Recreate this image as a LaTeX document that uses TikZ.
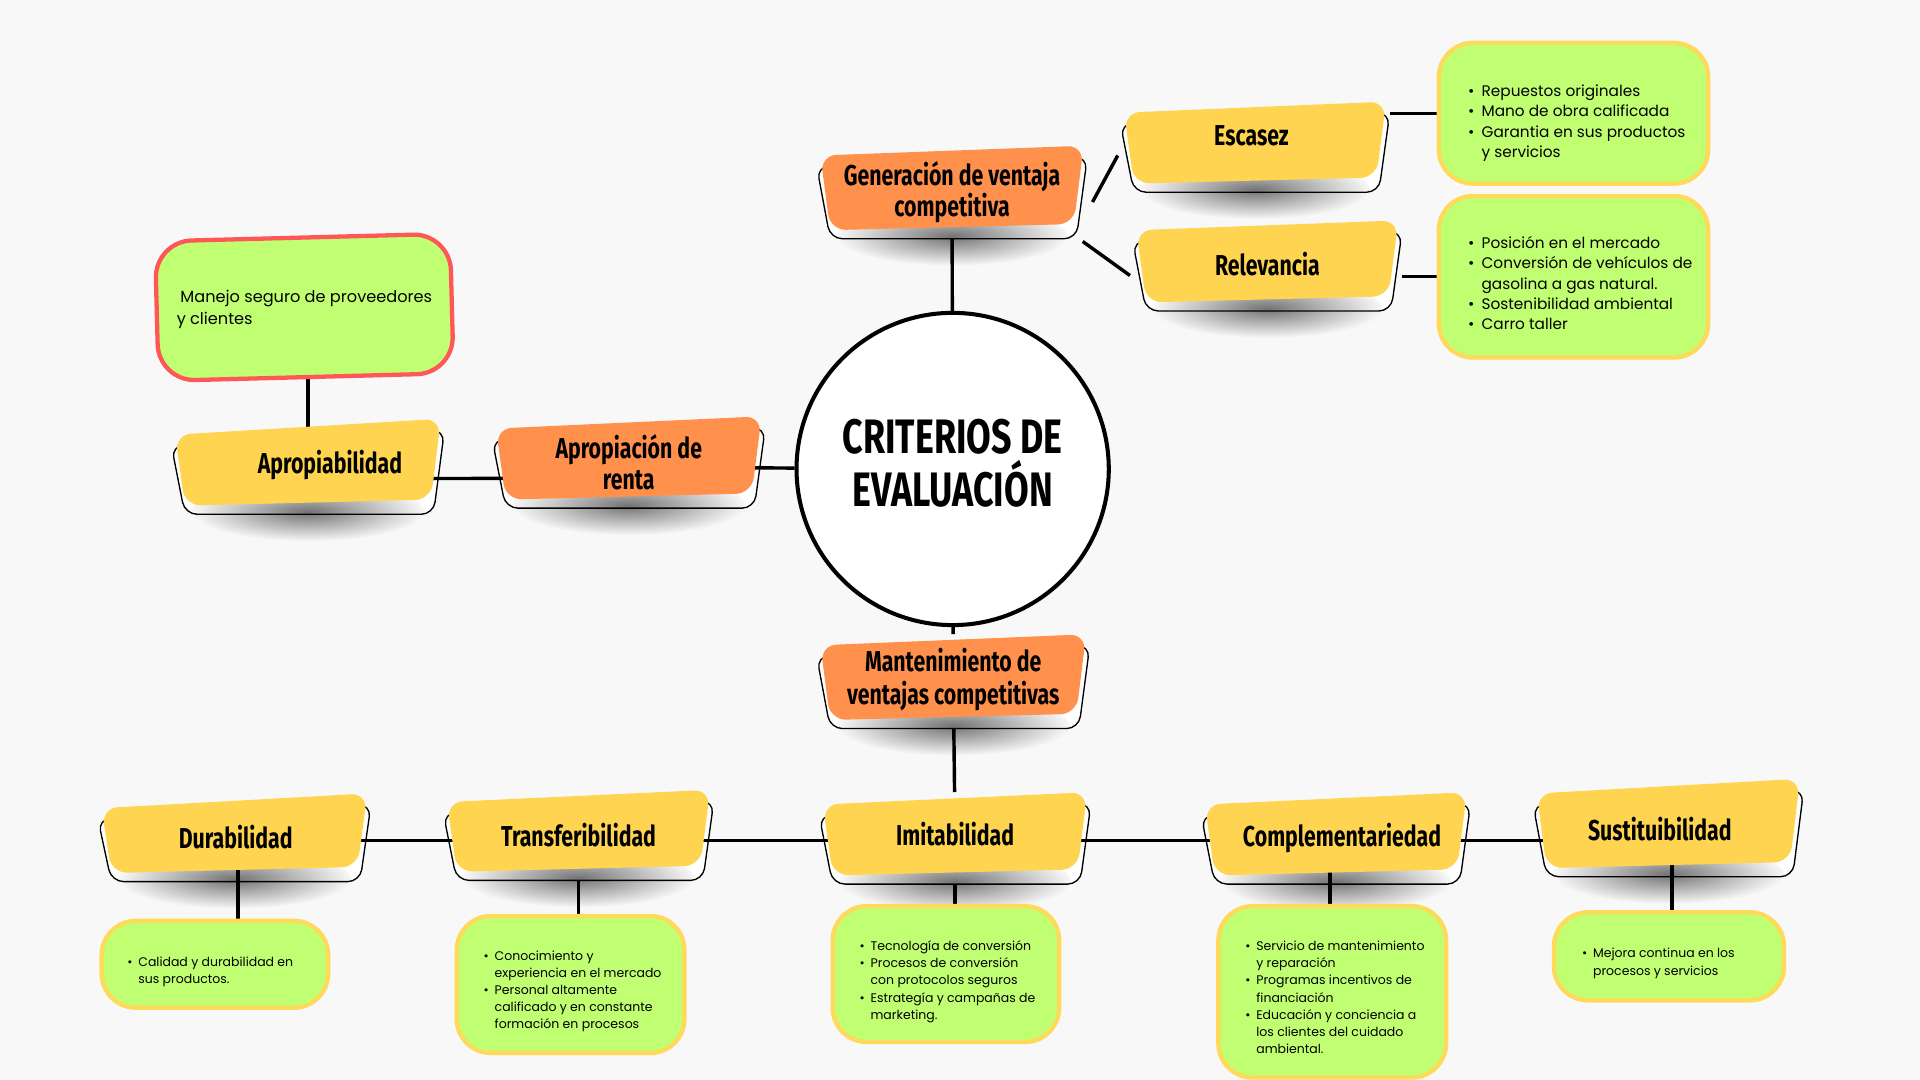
\documentclass[tikz,border=0pt]{standalone}
\usepackage{fontspec}
\setmainfont{Poppins}
\newfontfamily\hdfont[FakeStretch=0.74]{Fira Sans}
\definecolor{bgc}{HTML}{F8F8F8}
\definecolor{orng}{HTML}{FF914D}
\definecolor{yel}{HTML}{FFD451}
\definecolor{lime}{HTML}{C1FF72}
\definecolor{gold}{HTML}{FFD95A}
\definecolor{redb}{HTML}{FF5757}
\pgfdeclarelayer{back}\pgfdeclarelayer{shadow}\pgfdeclarelayer{lines}
\pgfsetlayers{back,shadow,lines,main}
\newcommand\tagshape[6]{%
 \begin{pgfonlayer}{shadow}
 \fill[white,rounded corners=10pt] ({#1-3},{#3+9}) -- ({#2+3},{#4+9}) -- ({#2-6},{#5+7}) -- ({#1+8},{#5+7}) -- cycle;
 \shade[inner color=black!55,outer color=bgc] ({(#1+#2)/2},{#5+5}) ellipse ({(#2-#1)*0.44} and 24);
 \end{pgfonlayer}
 \draw[line width=1.1pt,rounded corners=10pt] ({#1-3},{#3+9}) -- ({#2+3},{#4+9}) -- ({#2-6},{#5+7}) -- ({#1+8},{#5+7}) -- cycle;
 \fill[#6,rounded corners=13pt] (#1,#3) -- (#2,#4) -- ({#2-8},{#5-5}) -- ({#1+8},#5) -- cycle;
}
\newcommand\mv[3]{\raisebox{#2}[\height][\depth]{\kern#1#3\kern-#1}}
\newcommand\gtxt[5]{\parbox[c][#2][t]{#1}{\vspace*{#3}\leftskip=#4\relax\noindent #5}}
\newcommand\bl{\strut\makebox[11pt][l]{•}}
\newcommand\ct{\strut\hspace*{11pt}}
\newcommand\bls{\strut\makebox[9pt][l]{•}}
\newcommand\cts{\strut\hspace*{9pt}}
\tikzset{
 hd/.style={inner sep=0pt, font=\hdfont\bfseries\fontsize{23.5}{26}\selectfont, align=center},
 gbox/.style={draw=gold, fill=lime, line width=3.5pt, rounded corners=28pt, inner sep=0pt, font=\fontsize{12.5}{16.7}\selectfont},
 gsmall/.style={gbox, font=\fontsize{10.2}{14}\selectfont},
 conn/.style={line width=2.8pt, black},
}
\begin{document}
\begin{tikzpicture}[x=1pt,y=-1pt]
\begin{pgfonlayer}{back}
\fill[bgc] (0,0) rectangle (1568,882);
\end{pgfonlayer}
\useasboundingbox (0,0) rectangle (1568,882);

% centre
\node[circle, draw, line width=3.3pt, fill=white, minimum size=255pt, inner sep=0pt,
      font=\hdfont\bfseries\fontsize{39.5}{40}\selectfont] (crit) at (778,383)
      {\raisebox{-1pt}[\height][\depth]{\begin{tabular}{@{}c@{}}CRITERIOS DE\\[-6pt]EVALUACIÓN\end{tabular}}};

% heading boxes
\tagshape{670}{885}{127}{119}{188}{orng}
\node[hd, minimum width=221pt, minimum height=76pt] (gen) at (777.5,157) {Generación de ventaja\\competitiva};
\tagshape{918}{1132}{92}{83}{150}{yel}
\node[hd, minimum width=220pt, minimum height=74pt] (esc) at (1025,120) {\mv{-3pt}{9pt}{Escasez}};
\tagshape{928}{1142}{188}{180}{247}{yel}
\node[hd, minimum width=220pt, minimum height=74pt] (rel) at (1035,217) {\mv{0pt}{1pt}{Relevancia}};
\tagshape{143}{360}{355}{342}{413}{yel}
\node[hd, minimum width=223pt, minimum height=78pt] (aprb) at (251.5,381) {\mv{18pt}{1pt}{Apropiabilidad}};
\tagshape{405}{622}{350}{340}{408}{orng}
\node[hd, minimum width=223pt, minimum height=75pt] (apre) at (513.5,377.5) {Apropiación de\\renta};
\tagshape{670}{887}{527}{518}{588}{orng}
\node[hd, minimum width=223pt, minimum height=77pt] (mant) at (778.5,556.5) {\mv{0pt}{0pt}{\begin{tabular}{@{}c@{}}Mantenimiento de\\ventajas competitivas\end{tabular}}};
\tagshape{83}{300}{660}{648}{713}{yel}
\node[hd, minimum width=223pt, minimum height=72pt] (dur) at (191.5,684) {\mv{1pt}{0pt}{Durabilidad}};
\tagshape{365}{580}{655}{645}{712}{yel}
\node[hd, minimum width=221pt, minimum height=74pt] (trans) at (472.5,682) {Transferibilidad};
\tagshape{672}{888}{657}{647}{715}{yel}
\node[hd, minimum width=222pt, minimum height=75pt] (imit) at (780,684.5) {\mv{0pt}{3pt}{Imitabilidad}};
\tagshape{984}{1198}{657}{647}{715}{yel}
\node[hd, minimum width=220pt, minimum height=75pt] (comp) at (1091,684.5) {\mv{5pt}{0pt}{Complementariedad}};
\tagshape{1255}{1470}{648}{636}{709}{yel}
\node[hd, minimum width=221pt, minimum height=80pt] (sust) at (1362.5,676) {\mv{-7pt}{-1pt}{Sustituibilidad}};

% green boxes
\node[gbox] (g1) at (1285,92.5) {\gtxt{220pt}{115pt}{32pt}{24pt}{%
 \bl Repuestos originales\\ \bl Mano de obra calificada\\ \bl Garantia en sus productos\\ \ct y servicios}};
\node[gbox] (g2) at (1285,226) {\gtxt{220pt}{132pt}{31pt}{24pt}{%
 \bl Posición en el mercado\\ \bl Conversión de vehículos de\\ \ct gasolina a gas natural.\\ \bl Sostenibilidad ambiental\\ \bl Carro taller}};
\node[gbox, draw=redb, rounded corners=30pt, rotate=1.5, font=\fontsize{13.2}{18}\selectfont] (man) at (248.5,251)
 {\rotatebox[origin=c]{-1.5}{\gtxt{238.3pt}{107.8pt}{37pt}{15pt}{\strut\hspace*{3pt}Manejo seguro de proveedores\\ \strut y clientes}}};
\node[gsmall] (gdur) at (175.5,787.5) {\gtxt{185pt}{71pt}{27.5pt}{21pt}{%
 \bls Calidad y durabilidad en\\ \cts sus productos.}};
\node[gsmall] (gtrans) at (466,804) {\gtxt{186pt}{112pt}{26.5pt}{22pt}{%
 \bls Conocimiento y\\ \cts experiencia en el mercado\\ \bls Personal altamente\\ \cts calificado y en constante\\ \cts formación en procesos}};
\node[gsmall] (gimit) at (772.5,795.5) {\gtxt{185pt}{111pt}{26.5pt}{22pt}{%
 \bls Tecnología de conversión\\ \bls Procesos de conversión\\ \cts con protocolos seguros\\ \bls Estrategía y campañas de\\ \cts marketing.}};
\node[gsmall] (gcomp) at (1088,810) {\gtxt{186pt}{140pt}{26.5pt}{22pt}{%
 \bls Servicio de mantenimiento\\ \cts y reparación\\ \bls Programas incentivos de\\ \cts financiación\\ \bls Educación y conciencia a\\ \cts los clientes del cuidado\\ \cts ambiental.}};
\node[gsmall] (gsust) at (1363,781) {\gtxt{188pt}{72pt}{27.5pt}{23pt}{%
 \bls Mejora continua en los\\ \cts procesos y servicios}};

% connectors
\begin{pgfonlayer}{lines}
\draw[conn] (gen) -- (crit);
\draw[conn] (crit) -- (mant);
\draw[conn] (mant) -- (imit);
\draw[conn] ([shift={(4,8)}]gen.east) -- ([shift={(-2,7)}]esc.west);
\draw[conn] ([shift={(-4,2)}]gen.south east) -- ([shift={(-2,8)}]rel.west);
\draw[conn] (g1.west) -- (g1.west -| esc.east);
\draw[conn] (g2.west) -- (g2.west -| rel.east);
\draw[conn] (aprb.center) -- (aprb.center |- man.center);
\draw[conn] ([yshift=-10pt]aprb.center) -- ([yshift=-13pt]apre.center);
\draw[conn] ([yshift=-4pt]apre.center) -- (crit);
\coordinate (hl) at ([yshift=-2pt]imit.center);
\draw[conn] (dur |- hl) -- (trans |- hl);
\draw[conn] (trans |- hl) -- (imit |- hl);
\draw[conn] (imit |- hl) -- (comp |- hl);
\draw[conn] (comp |- hl) -- (sust |- hl);
\draw[conn] ([xshift=3pt]dur.center) -- ([xshift=3pt]dur.center |- gdur.north);
\draw[conn] (trans) -- (trans |- gtrans.north);
\draw[conn] (imit) -- (imit |- gimit.north);
\draw[conn] ([xshift=-5pt]comp.center) -- ([xshift=-5pt]comp.center |- gcomp.north);
\draw[conn] ([xshift=3pt]sust.center) -- ([xshift=3pt]sust.center |- gsust.north);
\end{pgfonlayer}
\end{tikzpicture}
\end{document}
